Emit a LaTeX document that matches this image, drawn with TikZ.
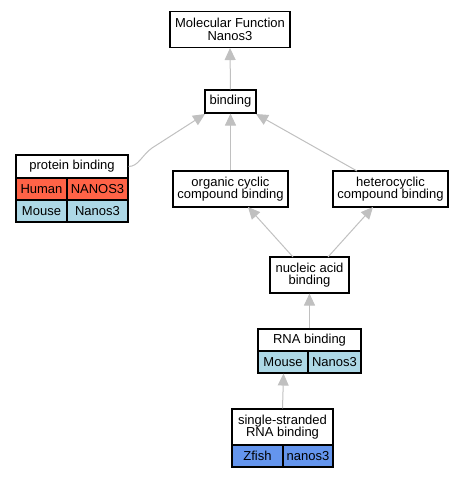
\documentclass[tikz,border=0pt]{standalone}
\usepackage{fontspec}
\setmainfont{Liberation Sans}
\usetikzlibrary{arrows.meta,calc}
\definecolor{edgegray}{RGB}{192,192,192}
\definecolor{humanred}{RGB}{255,99,71}
\definecolor{mouseblue}{RGB}{173,216,230}
\definecolor{fishblue}{RGB}{100,149,237}
\newcommand{\gofont}{\fontsize{13}{12.7}\selectfont}
\begin{document}
\begin{tikzpicture}[x=1pt,y=-1pt,
  box/.style={draw=black, line width=1.1pt, fill=white, inner sep=0pt, align=center, font=\gofont},
  cell/.style={box, minimum height=22pt},
  link/.style={draw=edgegray, line width=1pt, -{Triangle[length=12pt,width=11pt]}}]
\useasboundingbox (0,0) rectangle (464,477);
% nodes
\node[box, minimum width=120pt, minimum height=36pt] (mf) at (230,29.5) {Molecular Function\\Nanos3};
\node[box, minimum width=51pt, minimum height=23pt] (bind) at (230.5,101.5) {binding};
\node[box, minimum width=112pt, minimum height=23pt] (pb) at (72,166.5) {protein binding};
\node[cell, fill=humanred, minimum width=51pt] (pbh1) at (41.5,189) {Human};
\node[cell, fill=humanred, minimum width=61pt] (pbh2) at (97.5,189) {NANOS3};
\node[cell, fill=mouseblue, minimum width=51pt] (pbm1) at (41.5,211) {Mouse};
\node[cell, fill=mouseblue, minimum width=61pt] (pbm2) at (97.5,211) {Nanos3};
\node[box, minimum width=115pt, minimum height=36pt] (org) at (230.5,189) {organic cyclic\\compound binding};
\node[box, minimum width=115pt, minimum height=36pt] (het) at (390.5,189) {heterocyclic\\compound binding};
\node[box, minimum width=79pt, minimum height=36pt] (nuc) at (309.5,275) {nucleic acid\\binding};
\node[box, minimum width=103pt, minimum height=22pt] (rna) at (309.5,340) {RNA binding};
\node[cell, fill=mouseblue, minimum width=50pt] (rnam1) at (283,362) {Mouse};
\node[cell, fill=mouseblue, minimum width=53pt] (rnam2) at (334.5,362) {Nanos3};
\node[box, minimum width=101pt, minimum height=36pt] (ss) at (282.5,427) {single-stranded\\RNA binding};
\node[cell, fill=fishblue, minimum width=51pt] (ssz1) at (257.5,456) {Zfish};
\node[cell, fill=fishblue, minimum width=50pt] (ssz2) at (308,456) {nanos3};
% edge endpoints
\coordinate (pbcurve) at (152,148);
\coordinate (bindpb) at (205,114);
\coordinate (bindhet) at (256,114);
\coordinate (hettop) at (357,171);
\coordinate (orgnuc) at (248,207);
\coordinate (hetnuc) at (373,207);
\coordinate (nucl) at (293,257);
\coordinate (nucr) at (328,257);
% edges
\draw[link] (bind.north) -- (mf.south);
\draw[link] (pb.east) .. controls ($(pb.east)+(10,0)$) and (142,155) .. (pbcurve) -- (bindpb);
\draw[link] (org.north) -- (bind.south);
\draw[link] (hettop) -- (bindhet);
\draw[link] (nucl) -- (orgnuc);
\draw[link] (nucr) -- (hetnuc);
\draw[link] (rna.north) -- (nuc.south);
\draw[link] (ss.north) -- (ssz1.north east |- rnam1.south);
\end{tikzpicture}
\end{document}
